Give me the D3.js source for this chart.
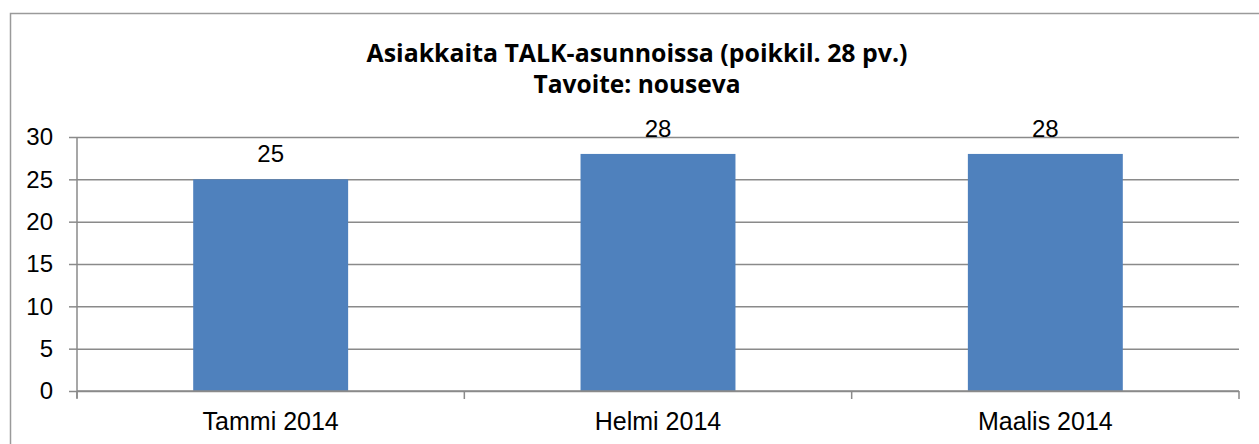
<!DOCTYPE html>
<html>
<head>
<meta charset="utf-8">
<script src="https://cdn.jsdelivr.net/npm/d3@7.9.0/dist/d3.min.js"></script>
<style>
  body { margin: 0; background: #fff; }
  svg { display: block; }
</style>
</head>
<body>
<div id="chart"></div>
<script>
// data
const months = ['Tammi 2014', 'Helmi 2014', 'Maalis 2014'];
const customers = [25, 28, 28];
const yTicks = [0, 5, 10, 15, 20, 25, 30];
const titleLines = ['Asiakkaita TALK-asunnoissa (poikkil. 28 pv.)', 'Tavoite: nouseva'];

const width = 1259, height = 444;
const plot = { left: 77, right: 1239, top: 137, bottom: 391 };
const gridColor = '#8a8a8a';

const svg = d3.select('#chart').append('svg')
  .attr('width', width)
  .attr('height', height);

// outer frame (runs off the right and bottom edge)
svg.append('rect')
  .attr('x', 10.5).attr('y', 13.5)
  .attr('width', 1260).attr('height', 440)
  .attr('fill', 'none')
  .attr('stroke', '#9a9a9a')
  .attr('stroke-width', 1.5);

// title
svg.append('g')
  .selectAll('text')
  .data(titleLines)
  .join('text')
  .attr('x', 637)
  .attr('y', (d, i) => i === 0 ? 62 : 93)
  .attr('text-anchor', 'middle')
  .attr('font-family', '"Open Sans", sans-serif')
  .attr('font-weight', 'bold')
  .attr('font-size', 25.5)
  .attr('textLength', (d, i) => i === 0 ? 541 : 207)
  .attr('lengthAdjust', 'spacingAndGlyphs')
  .attr('fill', '#000')
  .text(d => d);

const x = d3.scaleBand()
  .domain(months)
  .range([plot.left, plot.right])
  .paddingInner(0.6)
  .paddingOuter(0.3);

const y = d3.scaleLinear()
  .domain([0, 30])
  .range([plot.bottom, plot.top]);

// gridlines + y axis
const yAxis = svg.append('g')
  .attr('transform', `translate(${plot.left},0)`)
  .call(d3.axisLeft(y).tickValues(yTicks).tickSize(8).tickPadding(16));
yAxis.select('.domain').remove();
yAxis.selectAll('.tick line').attr('stroke', gridColor).attr('stroke-width', 1.5);
yAxis.selectAll('.tick').append('line')
  .attr('x1', 0).attr('x2', plot.right - plot.left)
  .attr('stroke', gridColor).attr('stroke-width', 1.5);
yAxis.selectAll('.tick text')
  .attr('font-family', '"Liberation Sans", Arial, sans-serif')
  .attr('font-size', 24)
  .attr('fill', '#000');

// vertical axis line
svg.append('line')
  .attr('x1', plot.left).attr('x2', plot.left)
  .attr('y1', y(30)).attr('y2', plot.bottom + 7)
  .attr('stroke', gridColor).attr('stroke-width', 1.5);

// bars
svg.append('g')
  .selectAll('rect')
  .data(months)
  .join('rect')
  .attr('x', d => x(d))
  .attr('y', (d, i) => y(customers[i]))
  .attr('width', x.bandwidth())
  .attr('height', (d, i) => y(0) - y(customers[i]))
  .attr('fill', '#4f81bd');

// value labels
svg.append('g')
  .selectAll('text')
  .data(months)
  .join('text')
  .attr('x', d => x(d) + x.bandwidth() / 2)
  .attr('y', (d, i) => y(customers[i]) - 17)
  .attr('text-anchor', 'middle')
  .attr('font-family', '"Liberation Sans", Arial, sans-serif')
  .attr('font-size', 24)
  .attr('fill', '#000')
  .text((d, i) => customers[i]);

// x axis
const boundaries = d3.range(months.length + 1).map(i => plot.left + i * (plot.right - plot.left) / months.length);
svg.append('line')
  .attr('x1', plot.left).attr('x2', plot.right)
  .attr('y1', plot.bottom).attr('y2', plot.bottom)
  .attr('stroke', gridColor).attr('stroke-width', 1.5);
svg.append('g')
  .selectAll('line')
  .data(boundaries)
  .join('line')
  .attr('x1', d => d).attr('x2', d => d)
  .attr('y1', plot.bottom).attr('y2', plot.bottom + 8)
  .attr('stroke', gridColor).attr('stroke-width', 1.5);
svg.append('g')
  .selectAll('text')
  .data(months)
  .join('text')
  .attr('x', d => x(d) + x.bandwidth() / 2)
  .attr('y', 430)
  .attr('text-anchor', 'middle')
  .attr('font-family', '"Liberation Sans", Arial, sans-serif')
  .attr('font-size', 25)
  .attr('fill', '#000')
  .text(d => d);
</script>
</body>
</html>
